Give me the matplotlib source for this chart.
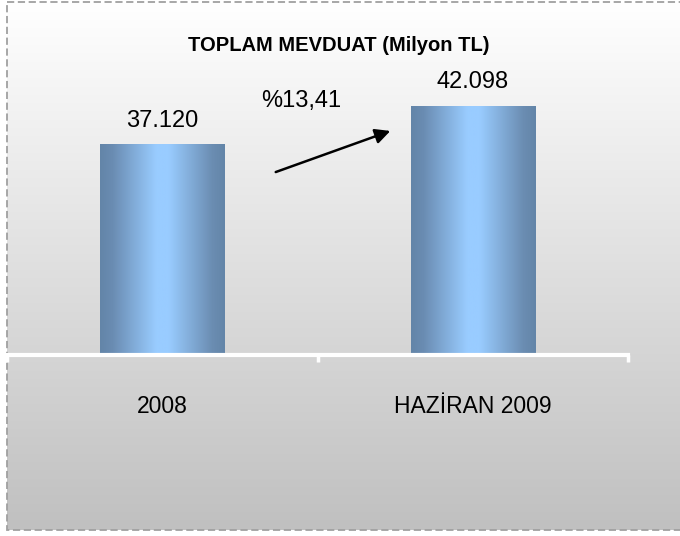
import numpy as np
import matplotlib
matplotlib.use('Agg')
import matplotlib.pyplot as plt
from matplotlib.colors import LinearSegmentedColormap
from matplotlib.patches import Rectangle

# Veriler
kategoriler = ['2008', 'HAZİRAN 2009']
mevduat = [37120, 42098]
baslik = 'TOPLAM MEVDUAT (Milyon TL)'

plt.rcParams['font.family'] = ['Liberation Sans Narrow', 'Liberation Sans', 'DejaVu Sans']

fig = plt.figure(figsize=(6.8, 5.36), dpi=100)

# Arka plan: dikey gri gradyan ve kesikli çerçeve
bg = fig.add_axes([0, 0, 1, 1])
bg.set_xlim(0, 680)
bg.set_ylim(536, 0)
bg.axis('off')
grad = np.linspace(0, 1, 256).reshape(-1, 1)
bg_cmap = LinearSegmentedColormap.from_list('bg', ['#ffffff', '#c0c0c0'])
bg.imshow(grad, cmap=bg_cmap, extent=[7, 684, 530, 2], aspect='auto', zorder=0)
bg.add_patch(Rectangle((7, 2), 680, 528, fill=False, edgecolor='#a0a0a0',
                       linestyle=(0, (4, 2)), linewidth=1.3, zorder=1))

# Ana grafik alanı
ax = fig.add_axes([7 / 680, 181.5 / 536, 621 / 680, 309 / 536])
ax.patch.set_alpha(0)

x = np.arange(len(kategoriler))
bars = ax.bar(x, mevduat, width=0.4, color='none', zorder=2)

bar_cmap = LinearSegmentedColormap.from_list(
    'bar', [(0, '#6385a8'), (0.1, '#6a8cb2'), (0.45, '#99ccff'),
            (0.55, '#99ccff'), (0.9, '#6b8db2'), (1, '#6385a8')])
hgrad = np.linspace(0, 1, 256).reshape(1, -1)
for b in bars:
    x0, w, h = b.get_x(), b.get_width(), b.get_height()
    ax.imshow(hgrad, cmap=bar_cmap, extent=[x0, x0 + w, 0, h],
              aspect='auto', zorder=2)

ax.set_xlim(-0.5, 1.5)
ax.set_ylim(10000, 50000)

# Değer etiketleri
for xi, v in zip(x, mevduat):
    ax.annotate(f'{v:,}'.replace(',', '.'), (xi, v), xytext=(0, 17.5),
                textcoords='offset points', ha='center', va='center',
                fontsize=17)

# Artış oku ve yüzdesi
artis = (mevduat[1] / mevduat[0] - 1) * 100
ax.annotate('', xy=(0.743, 39061), xytext=(0.357, 33495),
            arrowprops=dict(arrowstyle='-|>,head_length=0.9,head_width=0.45',
                            color='black', lw=1.8))
ax.text(0.447, 42816, '%' + f'{artis:.2f}'.replace('.', ','),
        ha='center', va='center', fontsize=17)

# Eksenler
for s in ['top', 'left', 'right']:
    ax.spines[s].set_visible(False)
ax.spines['bottom'].set_color('white')
ax.spines['bottom'].set_linewidth(3)
ax.set_yticks([])
ax.set_xticks([-0.5, 0.5, 1.5])
ax.set_xticklabels([])
ax.tick_params(axis='x', which='major', direction='out', length=5,
               width=2.5, color='white')
ax.set_xticks(x, minor=True)
ax.set_xticklabels(kategoriler, minor=True, fontsize=16.5)
ax.tick_params(axis='x', which='minor', length=0, pad=29)

fig.text(0.498, 0.916, baslik, ha='center', va='center',
         fontsize=14.5, fontweight='bold')

fig.savefig('out.png', dpi=100)
